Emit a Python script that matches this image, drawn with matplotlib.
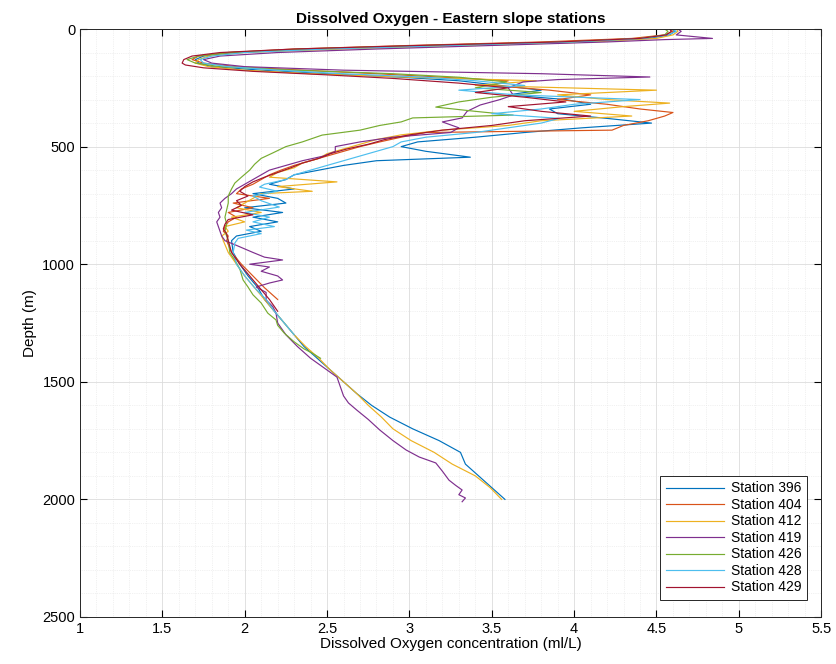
import matplotlib
matplotlib.use("Agg")
import matplotlib.pyplot as plt
from matplotlib.ticker import MultipleLocator

# depth (m) and dissolved oxygen (ml/L)
d396 = [0, 10, 25, 40, 55, 70, 85, 100, 115, 130, 145, 160, 175, 190, 205, 220,
        240, 260, 280, 300, 320, 340, 360, 380, 400, 420, 440, 460, 480, 500,
        520, 545, 560, 580, 600, 620, 640, 660, 680, 700, 720, 740, 760, 780,
        800, 820, 840, 860, 880, 900, 950, 1000, 1050, 1100, 1150, 1200, 1250,
        1300, 1350, 1400, 1450, 1500, 1550, 1600, 1650, 1700, 1750, 1800, 1850,
        1900, 1950, 2000]
o396 = [4.60, 4.61, 4.58, 4.45, 4.05, 3.20, 2.45, 1.95, 1.75, 1.70, 1.72, 1.80,
        2.10, 2.50, 2.95, 3.30, 3.55, 3.80, 3.60, 3.95, 4.10, 3.85, 3.90, 4.20,
        4.47, 4.05, 3.70, 3.40, 3.05, 2.95, 3.10, 3.37, 2.80, 2.60, 2.45, 2.30,
        2.25, 2.15, 2.30, 2.05, 2.20, 2.25, 2.00, 2.23, 2.05, 2.20, 2.03, 2.10,
        1.95, 1.92, 1.93, 1.97, 2.02, 2.08, 2.12, 2.18, 2.24, 2.30, 2.36, 2.44,
        2.52, 2.60, 2.68, 2.77, 2.88, 3.02, 3.18, 3.31, 3.34, 3.42, 3.50, 3.58]

d404 = [0, 10, 25, 40, 55, 70, 85, 100, 115, 130, 145, 160, 175, 190, 205, 220,
        240, 260, 280, 300, 320, 340, 355, 370, 390, 410, 430, 440, 460, 480,
        500, 520, 540, 560, 580, 600, 620, 640, 660, 680, 700, 720, 740, 760,
        780, 800, 820, 840, 860, 880, 900, 950, 1000, 1050, 1100, 1150]
o404 = [4.58, 4.60, 4.55, 4.35, 3.80, 3.00, 2.30, 1.90, 1.72, 1.68, 1.75, 1.95,
        2.35, 2.80, 3.20, 3.60, 3.50, 3.85, 4.10, 3.90, 4.20, 4.40, 4.60, 4.55,
        4.45, 4.30, 4.23, 3.10, 2.95, 2.82, 2.70, 2.60, 2.50, 2.40, 2.30, 2.22,
        2.15, 2.10, 2.05, 1.98, 1.95, 2.15, 1.93, 2.05, 1.90, 1.95, 1.90, 1.88,
        1.87, 1.90, 1.89, 1.92, 1.98, 2.05, 2.12, 2.20]

d412 = [0, 10, 25, 40, 55, 70, 85, 100, 115, 130, 145, 160, 175, 190, 205, 220,
        240, 260, 280, 300, 315, 330, 350, 370, 390, 410, 430, 450, 470, 490,
        510, 530, 550, 570, 590, 610, 630, 650, 670, 690, 700, 720, 740, 760,
        780, 800, 820, 840, 860, 880, 900, 950, 1000, 1050, 1100, 1150, 1200,
        1250, 1300, 1350, 1400, 1450, 1500, 1550, 1600, 1650, 1700, 1750, 1800,
        1850, 1900, 1950, 2000]
o412 = [4.62, 4.63, 4.60, 4.50, 4.10, 3.40, 2.60, 2.00, 1.78, 1.72, 1.70, 1.78,
        2.00, 2.40, 3.00, 3.77, 3.40, 4.50, 3.90, 4.20, 4.58, 4.30, 4.00, 4.35,
        3.80, 3.60, 3.20, 2.95, 2.80, 2.70, 2.60, 2.50, 2.45, 2.35, 2.30, 2.20,
        2.15, 2.56, 2.20, 2.41, 2.10, 2.05, 2.00, 1.95, 2.10, 1.92, 2.00, 1.88,
        1.90, 1.86, 1.87, 1.90, 1.95, 2.00, 2.06, 2.12, 2.18, 2.24, 2.30, 2.37,
        2.45, 2.52, 2.60, 2.68, 2.75, 2.83, 2.90, 3.01, 3.15, 3.26, 3.40, 3.49,
        3.56]

d419 = [0, 10, 25, 40, 45, 55, 70, 85, 100, 115, 130, 145, 160, 175, 190, 204,
        215, 225, 250, 281, 300, 323, 350, 378, 395, 420, 440, 460, 480, 500,
        520, 540, 560, 580, 600, 620, 640, 660, 680, 700, 720, 740, 760, 780,
        800, 820, 840, 860, 880, 900, 920, 950, 970, 982, 1000, 1012, 1030, 1050,
        1067, 1080, 1097, 1120, 1152, 1180, 1208, 1250, 1300, 1350, 1400, 1450,
        1480, 1520, 1560, 1590, 1620, 1660, 1705, 1750, 1790, 1820, 1845, 1880,
        1918, 1940, 1960, 1980, 1994, 2010]
o419 = [4.63, 4.65, 4.62, 4.84, 4.55, 4.20, 3.50, 2.80, 2.20, 1.85, 1.75, 1.80,
        2.00, 2.60, 3.80, 4.46, 3.90, 3.69, 3.60, 3.63, 3.55, 3.43, 3.35, 3.32,
        3.20, 3.30, 3.25, 2.90, 2.70, 2.55, 2.55, 2.48, 2.35, 2.25, 2.15, 2.10,
        2.05, 2.00, 1.95, 1.92, 1.88, 1.85, 1.86, 1.84, 1.85, 1.83, 1.84, 1.85,
        1.86, 1.88, 1.95, 2.05, 2.12, 2.23, 2.03, 2.15, 2.10, 2.20, 2.23, 2.15,
        2.07, 2.13, 2.13, 2.17, 2.19, 2.20, 2.25, 2.32, 2.40, 2.50, 2.56, 2.58,
        2.60, 2.63, 2.68, 2.75, 2.82, 2.90, 2.98, 3.06, 3.16, 3.20, 3.24, 3.28,
        3.32, 3.30, 3.34, 3.32]

d426 = [0, 10, 25, 40, 55, 70, 85, 100, 115, 130, 145, 160, 175, 190, 205, 225,
        250, 270, 290, 310, 332, 350, 366, 378, 395, 410, 430, 451, 480, 500,
        527, 550, 575, 600, 630, 655, 680, 710, 740, 770, 800, 830, 860, 900,
        952, 982, 1020, 1067, 1097, 1130, 1165, 1208, 1237, 1260, 1293, 1330,
        1360, 1378, 1400]
o426 = [4.55, 4.57, 4.55, 4.40, 3.95, 3.10, 2.35, 1.90, 1.72, 1.65, 1.70, 1.85,
        2.30, 2.90, 3.30, 3.59, 3.40, 3.80, 3.50, 3.30, 3.16, 3.40, 3.63, 3.02,
        2.95, 2.82, 2.70, 2.47, 2.35, 2.25, 2.17, 2.10, 2.06, 2.03, 1.98, 1.94,
        1.92, 1.90, 1.90, 1.89, 1.88, 1.89, 1.88, 1.90, 1.91, 1.94, 1.97, 1.99,
        2.02, 2.05, 2.10, 2.14, 2.19, 2.20, 2.24, 2.30, 2.36, 2.41, 2.46]

d428 = [0, 10, 25, 40, 55, 70, 85, 100, 115, 130, 145, 160, 175, 190, 205, 220,
        240, 260, 280, 300, 320, 340, 360, 380, 400, 420, 440, 460, 480, 500,
        520, 540, 560, 580, 600, 620, 640, 660, 672, 690, 710, 730, 757, 780,
        800, 820, 840, 855, 870, 890, 910, 950, 1000, 1050, 1100, 1150, 1200,
        1250, 1300]
o428 = [4.60, 4.62, 4.57, 4.42, 4.00, 3.25, 2.50, 2.00, 1.80, 1.73, 1.75, 1.90,
        2.20, 2.60, 3.10, 3.40, 3.70, 3.30, 3.65, 4.40, 4.00, 3.80, 3.50, 3.91,
        3.80, 3.60, 3.40, 3.10, 2.95, 2.90, 2.80, 2.70, 2.60, 2.50, 2.40, 2.30,
        2.25, 2.12, 2.09, 2.20, 2.05, 2.10, 2.21, 2.00, 2.15, 2.05, 2.18, 2.01,
        2.10, 1.96, 1.94, 1.93, 1.95, 2.00, 2.06, 2.13, 2.18, 2.24, 2.30]

d429 = [0, 10, 25, 40, 55, 70, 85, 100, 115, 130, 145, 153, 165, 180, 195, 210,
        230, 250, 270, 290, 310, 330, 350, 370, 390, 410, 430, 450, 470, 490,
        510, 530, 550, 570, 590, 610, 630, 650, 670, 690, 710, 730, 750, 770,
        790, 810, 830, 850, 870, 900, 950, 1000, 1050, 1100, 1150, 1200]
o429 = [4.58, 4.59, 4.56, 4.40, 3.90, 3.05, 2.30, 1.85, 1.68, 1.63, 1.62, 1.64,
        1.75, 2.05, 2.50, 2.90, 3.30, 3.60, 3.40, 3.70, 3.95, 3.60, 3.80, 4.10,
        3.70, 3.50, 3.20, 3.00, 2.85, 2.75, 2.62, 2.52, 2.45, 2.35, 2.28, 2.20,
        2.12, 2.05, 2.00, 1.97, 2.02, 1.95, 1.98, 1.92, 2.05, 1.90, 1.88, 1.87,
        1.89, 1.90, 1.92, 1.97, 2.03, 2.09, 2.15, 2.20]

stations = ["Station 396", "Station 404", "Station 412", "Station 419",
            "Station 426", "Station 428", "Station 429"]
depths = [d396, d404, d412, d419, d426, d428, d429]
oxygen = [o396, o404, o412, o419, o426, o428, o429]
colors = ["#0072BD", "#D95319", "#EDB120", "#7E2F8E", "#77AC30", "#4DBEEE", "#A2142F"]

plt.rcParams['font.family'] = ['Liberation Sans', 'DejaVu Sans']

fig = plt.figure(figsize=(8.37, 6.64), dpi=100)
ax = fig.add_axes([0.0956, 0.0708, 0.8855, 0.8855])

for d, o, c, name in zip(depths, oxygen, colors, stations):
    ax.plot(o, d, color=c, lw=0.85, label=name)

ax.set_xlim(1, 5.5)
ax.set_ylim(2500, 0)
ax.xaxis.set_major_locator(MultipleLocator(0.5))
ax.xaxis.set_minor_locator(MultipleLocator(0.1))
ax.yaxis.set_major_locator(MultipleLocator(500))
ax.yaxis.set_minor_locator(MultipleLocator(100))
ax.set_xticklabels([f"{v:g}" for v in ax.get_xticks()])
ax.grid(which='major', color='#dcdcdc', lw=0.6)
ax.grid(which='minor', color='#e4e4e4', lw=0.5, ls=':')
ax.set_axisbelow(True)
ax.tick_params(which='both', direction='in', top=True, right=True, labelsize=10.5)
ax.tick_params(which='minor', length=0)
ax.tick_params(which='major', length=5)
for s in ax.spines.values():
    s.set_color('#262626')
    s.set_linewidth(0.7)

ax.set_xlabel("Dissolved Oxygen concentration (ml/L)", fontsize=11, labelpad=1)
ax.set_ylabel("Depth (m)", fontsize=11, labelpad=4)
ax.set_title("Dissolved Oxygen - Eastern slope stations", fontsize=11,
             fontweight='bold', pad=4)

leg = ax.legend(loc='lower right', bbox_to_anchor=(0.981, 0.029), borderaxespad=0,
                fontsize=10, handlelength=4.2, labelspacing=0.18, fancybox=False,
                edgecolor='#262626', framealpha=1, handletextpad=0.5,
                borderpad=0.4)
leg.get_frame().set_linewidth(0.7)

fig.savefig("out.png", dpi=100)
